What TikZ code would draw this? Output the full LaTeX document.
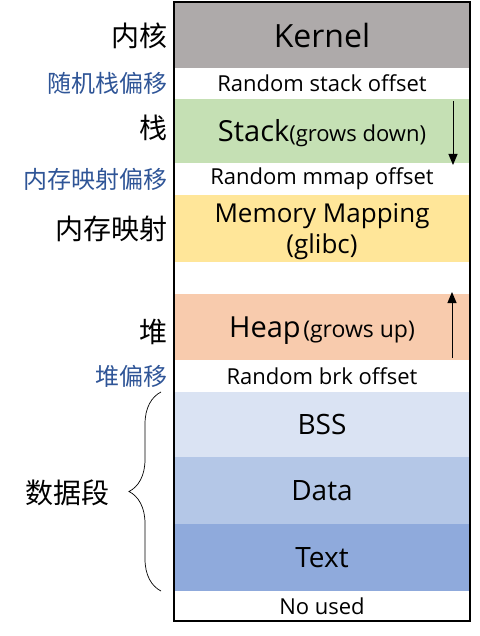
\documentclass[tikz,border=0pt]{standalone}
\usepackage{fontspec}
\setmainfont{Open Sans}
\newfontfamily\cjk{Noto Sans CJK SC}
\usepackage{tikz}
\usetikzlibrary{positioning, arrows.meta, decorations.pathreplacing}

\definecolor{kernelgray}{HTML}{AEAAAA}
\definecolor{stackgreen}{HTML}{C5E0B4}
\definecolor{mmapyellow}{HTML}{FFE699}
\definecolor{heaporange}{HTML}{F8CBAD}
\definecolor{bssblue}{HTML}{DAE3F3}
\definecolor{datablue}{HTML}{B4C7E7}
\definecolor{textblue}{HTML}{8FAADC}
\definecolor{offblue}{HTML}{2F5597}

\newcommand{\fs}[1]{\fontsize{#1}{1.2\dimexpr #1pt\relax}\selectfont}

\begin{document}
\begin{tikzpicture}[
    x=1pt, y=-1pt,
    node distance=0pt,
    band/.style={rectangle, inner sep=0pt, outer sep=0pt, minimum width=296pt, minimum height=#1, align=center},
    lab/.style={inner sep=0pt, font=\cjk\fs{28}},
    offlab/.style={inner sep=0pt, text=offblue, font=\cjk\fs{24}},
    growarrow/.style={-{Triangle[length=11pt,width=9pt]}, line width=1pt},
    frame/.style={draw, line width=2pt}
]
\useasboundingbox (0,0) rectangle (479,636);

% Segments
\node (kernel) [band=65pt, fill=kernelgray, font=\fs{32}] at (322,35.5) {Kernel};
\node (stackoff) [band=31pt, below=of kernel, font=\fs{22}] {Random stack offset};
\node (stack) [band=64pt, fill=stackgreen, below=of stackoff] {};
\node (stacktext) [inner sep=0pt] at ([yshift=-2pt]stack.center) {{\fs{29}Stack}{\fs{22}(grows down)}};
\node (mmapoff) [band=32pt, below=of stack, font=\fs{22}] {Random mmap offset};
\node (mmap) [band=67pt, fill=mmapyellow, below=of mmapoff] {};
\node (mmaptext) [font=\fs{26}, align=center, inner sep=0pt] at ([yshift=-3pt]mmap.center) {Memory Mapping \\[-1pt] (glibc)};
\node (heap) [band=66pt, fill=heaporange, below=32pt of mmap] {};
\node (heaptext) [inner sep=0pt] at ([yshift=-4pt]heap.center) {{\fs{29}Heap} {\fs{23}(grows up)}};
\node (brkoff) [band=32pt, below=of heap, font=\fs{22}] {Random brk offset};
\node (bss) [band=65pt, fill=bssblue, below=of brkoff, font=\fs{28}] {BSS};
\node (data) [band=67pt, fill=datablue, below=of bss, font=\fs{28}] {Data};
\node (textseg) [band=67pt, fill=textblue, below=of data, font=\fs{28}] {Text};
\node (noused) [band=30pt, below=of textseg, font=\fs{22}] {No used};

\draw [frame] ([yshift=1pt]kernel.north west) rectangle (noused.south east);

% Growth directions
\draw [growarrow] ([xshift=-17pt,yshift=-2pt]stack.north east) -- ([xshift=-17pt,yshift=-2pt]stack.south east);
\draw [growarrow] ([xshift=-18pt,yshift=2pt]heap.south east) -- ([xshift=-18pt,yshift=2pt]heap.north east);

% Labels
\node (lkernel) [lab, left=6pt of kernel.west] {内核};
\node (lstackoff) [offlab, left=6pt of stackoff.west] {随机栈偏移};
\node (lstack) [lab, left=6pt of stack.west, yshift=3pt] {栈};
\node (lmmapoff) [offlab, left=6pt of mmapoff.west] {内存映射偏移};
\node (lmmap) [lab, left=6pt of mmap.west] {内存映射};
\node (lheap) [lab, left=6pt of heap.west, yshift=-5pt] {堆};
\node (lbrkoff) [offlab, left=6pt of brkoff.west] {堆偏移};

\draw [decorate, decoration={brace, amplitude=32pt}, line width=0.7pt]
    ([xshift=-13pt]textseg.south west) -- ([xshift=-13pt]bss.north west);
\node (ldata) [lab, left=64pt of data.west, yshift=-2pt] {数据段};

\end{tikzpicture}
\end{document}
